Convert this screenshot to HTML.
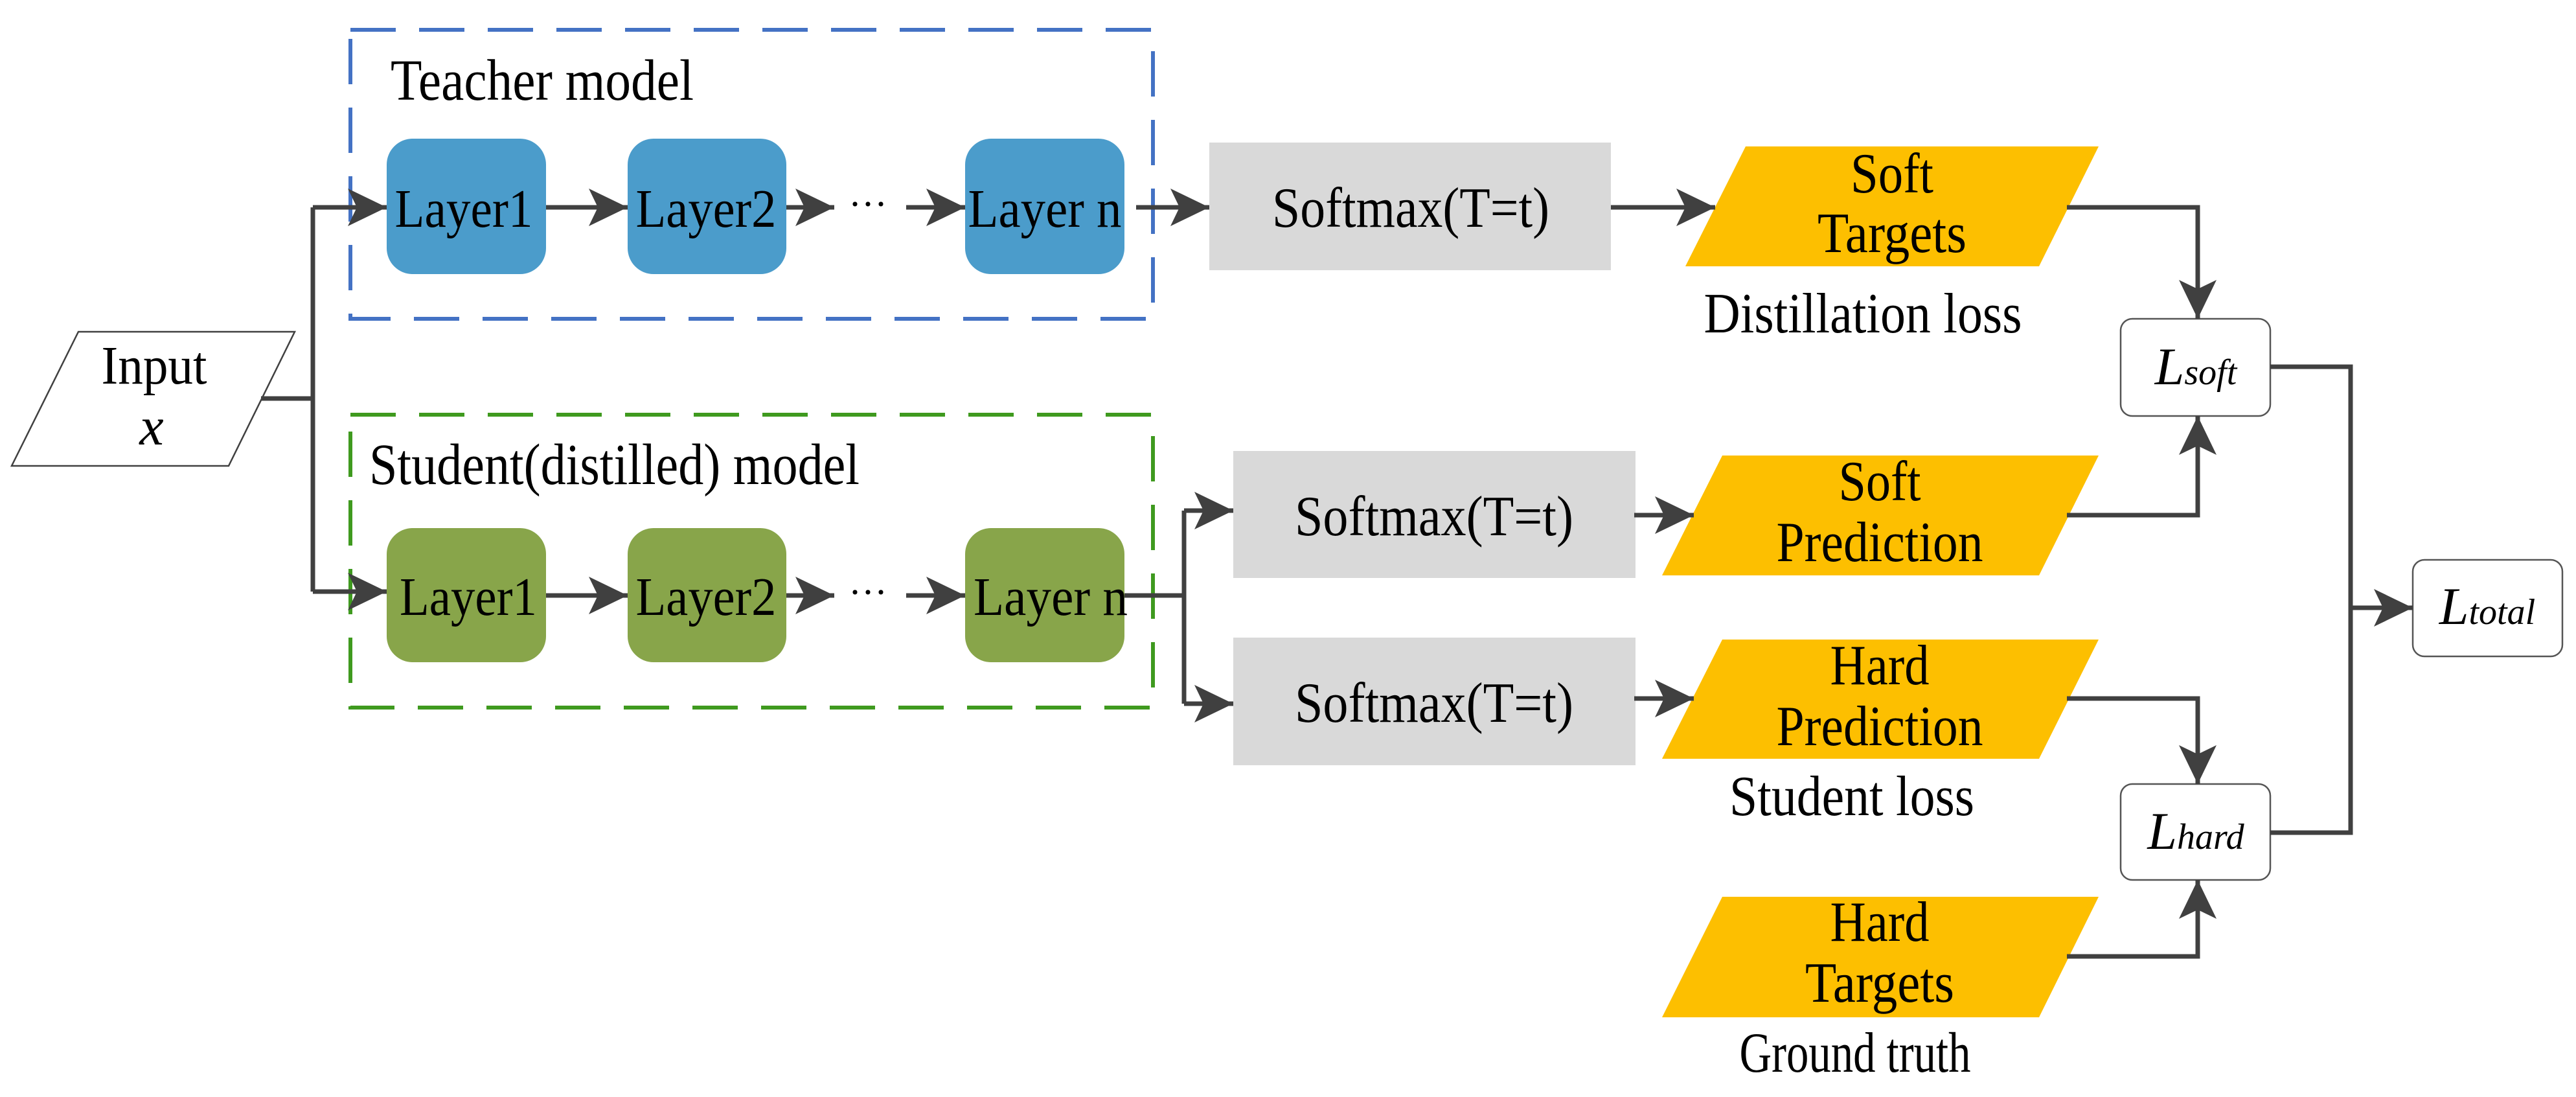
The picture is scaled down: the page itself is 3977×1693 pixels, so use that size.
<!DOCTYPE html>
<html><head><meta charset="utf-8"><style>
html,body{margin:0;padding:0;background:#fff;}
svg{display:block;}
text{font-family:"Liberation Serif","Times New Roman","DejaVu Serif",serif;fill:#000;}
</style></head><body>
<svg width="3977" height="1693" viewBox="0 0 3977 1693" xmlns="http://www.w3.org/2000/svg" font-family="Liberation Serif, serif">
<defs>
<marker id="a" markerUnits="userSpaceOnUse" markerWidth="80" markerHeight="80" refX="0" refY="0" viewBox="-70 -40 80 80" orient="auto">
<path d="M0,0 L-60,-29 L-46,0 L-60,29 Z" fill="#404040"/>
</marker>
</defs>
<rect x="541" y="46" width="1239" height="446" fill="none" stroke="#4472c4" stroke-width="6" stroke-dasharray="70,36"/>
<rect x="541" y="640" width="1239" height="452" fill="none" stroke="#3f9a1f" stroke-width="6" stroke-dasharray="70,36"/>
<text x="603" y="154" font-size="90" textLength="468" lengthAdjust="spacingAndGlyphs">Teacher model</text>
<text x="570" y="747" font-size="90" textLength="757" lengthAdjust="spacingAndGlyphs">Student(distilled) model</text>

<g fill="#4b9ccb">
<rect x="597" y="214" width="246" height="209" rx="40"/>
<rect x="969" y="214" width="245" height="209" rx="40"/>
<rect x="1490" y="214" width="246" height="209" rx="40"/>
</g>
<g fill="#88a54a">
<rect x="597" y="815" width="246" height="207" rx="40"/>
<rect x="969" y="815" width="245" height="207" rx="40"/>
<rect x="1490" y="815" width="246" height="207" rx="40"/>
</g>
<g font-size="84" text-anchor="middle">
<text x="716" y="350" textLength="213" lengthAdjust="spacingAndGlyphs">Layer1</text>
<text x="1090" y="350" textLength="217" lengthAdjust="spacingAndGlyphs">Layer2</text>
<text x="1613" y="350" textLength="237" lengthAdjust="spacingAndGlyphs">Layer n</text>
<text x="723" y="949" textLength="212" lengthAdjust="spacingAndGlyphs">Layer1</text>
<text x="1090" y="949" textLength="217" lengthAdjust="spacingAndGlyphs">Layer2</text>
<text x="1622" y="949" textLength="238" lengthAdjust="spacingAndGlyphs">Layer n</text>
<text x="1340" y="335" font-size="60">···</text>
<text x="1340" y="934" font-size="60">···</text>
</g>

<polygon points="121,512 455,512 353,719 18,719" fill="#fff" stroke="#404040" stroke-width="2.5"/>
<text x="238" y="592" font-size="84" text-anchor="middle" textLength="163" lengthAdjust="spacingAndGlyphs">Input</text>
<text x="234" y="686" font-size="84" text-anchor="middle" font-style="italic">x</text>

<g fill="#d9d9d9">
<rect x="1867" y="220" width="620" height="197"/>
<rect x="1904" y="696" width="621" height="196"/>
<rect x="1904" y="984" width="621" height="197"/>
</g>
<g font-size="88" text-anchor="middle">
<text x="2178" y="350" textLength="428" lengthAdjust="spacingAndGlyphs">Softmax(T=t)</text>
<text x="2214" y="826" textLength="430" lengthAdjust="spacingAndGlyphs">Softmax(T=t)</text>
<text x="2214" y="1114" textLength="430" lengthAdjust="spacingAndGlyphs">Softmax(T=t)</text>
</g>

<g fill="#fdbf00">
<polygon points="2695,226 3240,226 3148,411 2602,411"/>
<polygon points="2659,703 3240,703 3148,888 2566,888"/>
<polygon points="2659,987 3240,987 3148,1171 2566,1171"/>
<polygon points="2659,1384 3240,1384 3148,1570 2566,1570"/>
</g>
<g font-size="88" text-anchor="middle">
<text x="2921" y="297" textLength="128" lengthAdjust="spacingAndGlyphs">Soft</text>
<text x="2921" y="389" textLength="230" lengthAdjust="spacingAndGlyphs">Targets</text>
<text x="2902" y="772" textLength="127" lengthAdjust="spacingAndGlyphs">Soft</text>
<text x="2902" y="866" textLength="319" lengthAdjust="spacingAndGlyphs">Prediction</text>
<text x="2902" y="1056" textLength="153" lengthAdjust="spacingAndGlyphs">Hard</text>
<text x="2902" y="1150" textLength="319" lengthAdjust="spacingAndGlyphs">Prediction</text>
<text x="2902" y="1452" textLength="153" lengthAdjust="spacingAndGlyphs">Hard</text>
<text x="2902" y="1546" textLength="230" lengthAdjust="spacingAndGlyphs">Targets</text>
<text x="2876" y="513" textLength="491" lengthAdjust="spacingAndGlyphs">Distillation loss</text>
<text x="2859" y="1258" textLength="378" lengthAdjust="spacingAndGlyphs">Student loss</text>
<text x="2864" y="1654" textLength="357" lengthAdjust="spacingAndGlyphs">Ground truth</text>
</g>

<g fill="#fff" stroke="#555" stroke-width="2.5">
<rect x="3274" y="492" width="231" height="150" rx="18"/>
<rect x="3274" y="1210" width="231" height="148" rx="18"/>
<rect x="3725" y="864" width="231" height="149" rx="18"/>
</g>
<text x="3390" y="593" font-size="82" text-anchor="middle" font-style="italic">L<tspan font-size="56">soft</tspan></text>
<text x="3390" y="1310" font-size="82" text-anchor="middle" font-style="italic">L<tspan font-size="56">hard</tspan></text>
<text x="3840" y="963" font-size="82" text-anchor="middle" font-style="italic">L<tspan font-size="56">total</tspan></text>

<g stroke="#404040" stroke-width="7" fill="none" stroke-linejoin="miter">
<polyline points="403,615 483,615"/>
<polyline points="483,320 483,913"/>
<line x1="483" y1="320" x2="597" y2="320" marker-end="url(#a)"/>
<line x1="483" y1="913" x2="597" y2="913" marker-end="url(#a)"/>
<line x1="843" y1="320" x2="969" y2="320" marker-end="url(#a)"/>
<line x1="1214" y1="320" x2="1288" y2="320" marker-end="url(#a)"/>
<line x1="1399" y1="320" x2="1490" y2="320" marker-end="url(#a)"/>
<line x1="1754" y1="320" x2="1867" y2="320" marker-end="url(#a)"/>
<line x1="843" y1="919" x2="969" y2="919" marker-end="url(#a)"/>
<line x1="1214" y1="919" x2="1288" y2="919" marker-end="url(#a)"/>
<line x1="1399" y1="919" x2="1490" y2="919" marker-end="url(#a)"/>
<polyline points="1736,919 1828,919"/>
<polyline points="1828,788 1828,1086"/>
<line x1="1828" y1="788" x2="1904" y2="788" marker-end="url(#a)"/>
<line x1="1828" y1="1086" x2="1904" y2="1086" marker-end="url(#a)"/>
<line x1="2487" y1="320" x2="2648" y2="320" marker-end="url(#a)"/>
<line x1="2523" y1="795" x2="2615" y2="795" marker-end="url(#a)"/>
<line x1="2523" y1="1078" x2="2615" y2="1078" marker-end="url(#a)"/>
<polyline points="3191,320 3393,320 3393,492" marker-end="url(#a)"/>
<polyline points="3191,795 3393,795 3393,642" marker-end="url(#a)"/>
<polyline points="3191,1078 3393,1078 3393,1210" marker-end="url(#a)"/>
<polyline points="3191,1476 3393,1476 3393,1358" marker-end="url(#a)"/>
<polyline points="3505,566 3629,566 3629,1285 3505,1285"/>
<line x1="3629" y1="938" x2="3725" y2="938" marker-end="url(#a)"/>
</g>
</svg>
</body></html>
